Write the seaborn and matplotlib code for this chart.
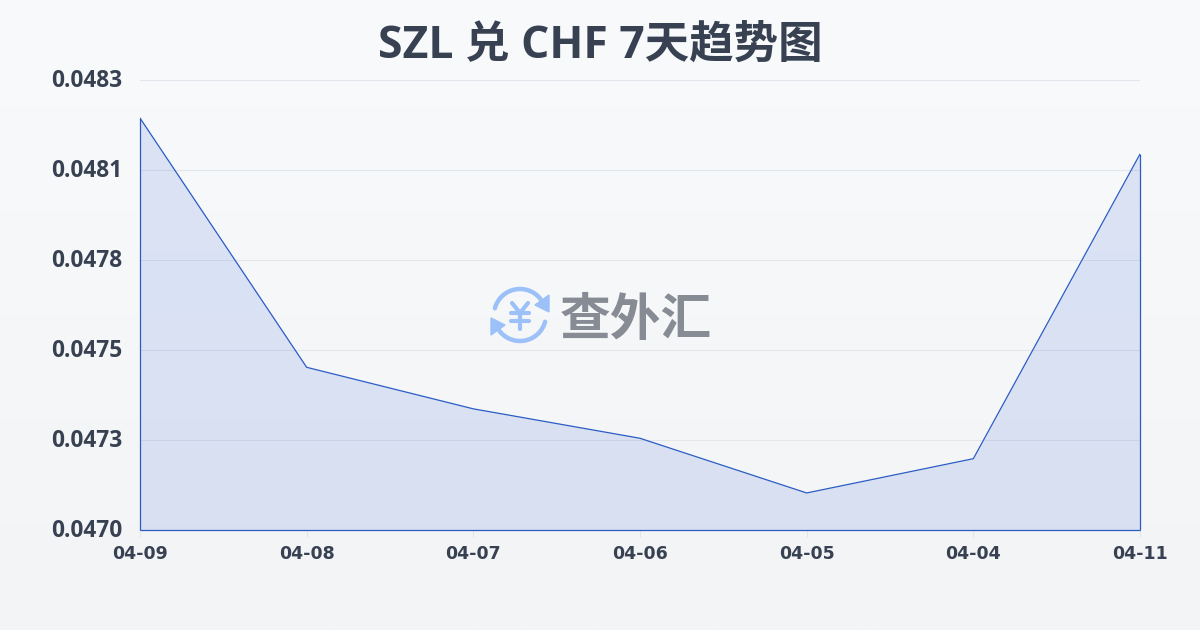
import numpy as np
import pandas as pd
import matplotlib
matplotlib.use('Agg')
import matplotlib.pyplot as plt
import matplotlib.transforms as mtrans
import seaborn as sns

# Data
dates = ['04-09', '04-08', '04-07', '04-06', '04-05', '04-04', '04-11']
rates = [0.04821, 0.04749, 0.04737, 0.047285, 0.047127, 0.047226, 0.048106]
y_ticks = [0.04702, 0.04728, 0.04754, 0.0478, 0.04806, 0.04832]
y_labels = ['0.0470', '0.0473', '0.0475', '0.0478', '0.0481', '0.0483']

sns.set_theme(style='white')
plt.rcParams['font.family'] = ['Open Sans', 'Noto Sans CJK SC', 'DejaVu Sans']

TEXT = '#374151'
LINE = '#2a5cc4'
ICON = '#9cc0f8'

df = pd.DataFrame({'date': dates, 'rate': rates})

fig = plt.figure(figsize=(12, 6.3), dpi=100)

# Background gradient
bg = fig.add_axes([0, 0, 1, 1], zorder=0)
bg.imshow(np.linspace(0, 1, 256).reshape(-1, 1), aspect='auto',
          cmap=matplotlib.colors.LinearSegmentedColormap.from_list('bg', ['#f8fafc', '#f3f4f6']))
bg.axis('off')

ax = fig.add_axes([140 / 1200, 1 - 530 / 630, 1000 / 1200, 450 / 630], zorder=1)
ax.patch.set_alpha(0)

sns.lineplot(data=df, x='date', y='rate', sort=False, color=LINE, linewidth=0.9, ax=ax)
ax.fill_between(range(len(dates)), rates, y_ticks[0], facecolor='#3f6ad8', alpha=0.15, linewidth=0)

# Outline goes down the sides and along the bottom
ax.vlines([0, len(dates) - 1], y_ticks[0], [rates[0], rates[-1]], color=LINE, linewidth=0.9, clip_on=False)
ax.hlines(y_ticks[0], 0, len(dates) - 1, color=LINE, linewidth=0.9, clip_on=False)

ax.set_xlim(0, len(dates) - 1)
ax.set_ylim(y_ticks[0], y_ticks[-1])
ax.set_xlabel('')
ax.set_ylabel('')
ax.set_yticks(y_ticks)
ax.set_yticklabels(y_labels, fontsize=16.3, fontweight='bold', color=TEXT)
ax.set_xticks(range(len(dates)))
ax.set_xticklabels(dates, fontsize=12.5, fontweight='bold', color=TEXT, family=['DejaVu Sans'])
ax.tick_params(axis='y', length=0, pad=12.5)
ax.tick_params(axis='x', length=5, width=0.8, color='#e2e5ea', pad=6, bottom=True)
ax.grid(axis='y', color='#e3e6eb', linewidth=0.8)
ax.set_axisbelow(True)
for s in ax.spines.values():
    s.set_visible(False)

# y labels sit slightly above their gridlines
up = mtrans.ScaledTranslation(0, 1.5 / 72, fig.dpi_scale_trans)
for lab in ax.get_yticklabels():
    lab.set_transform(lab.get_transform() + up)

fig.text(0.5, 1 - 46 / 630, 'SZL 兑 CHF 7天趋势图', ha='center', va='center',
         fontsize=32, fontweight='bold', color=TEXT)

# Watermark logo, in pixel coordinates
wm = fig.add_axes([0, 0, 1, 1], zorder=2)
wm.set_xlim(0, 1200)
wm.set_ylim(630, 0)
wm.axis('off')
cx, cy, r = 520, 315, 26
t = np.radians(np.linspace(195, 322, 40))
wm.plot(cx + r * np.cos(t), cy + r * np.sin(t), color=ICON, lw=3.2, solid_capstyle='round')
t = np.radians(np.linspace(15, 142, 40))
wm.plot(cx + r * np.cos(t), cy + r * np.sin(t), color=ICON, lw=3.2, solid_capstyle='round')
wm.fill([549, 549, 535], [295, 312, 305], color=ICON)
wm.fill([491, 491, 505], [335, 318, 325], color=ICON)
wm.plot([512, 520, 528], [303, 313, 303], color=ICON, lw=3, solid_capstyle='round')
wm.plot([511, 529], [313, 313], color=ICON, lw=3, solid_capstyle='round')
wm.plot([511, 529], [321, 321], color=ICON, lw=3, solid_capstyle='round')
wm.plot([520, 520], [313, 329], color=ICON, lw=3, solid_capstyle='round')
wm.text(635.5, 320, '查外汇', ha='center', va='center', fontsize=36.5,
        fontweight='bold', color='#868b94', family=['Noto Sans CJK SC'])

fig.savefig('out.png', dpi=100)
